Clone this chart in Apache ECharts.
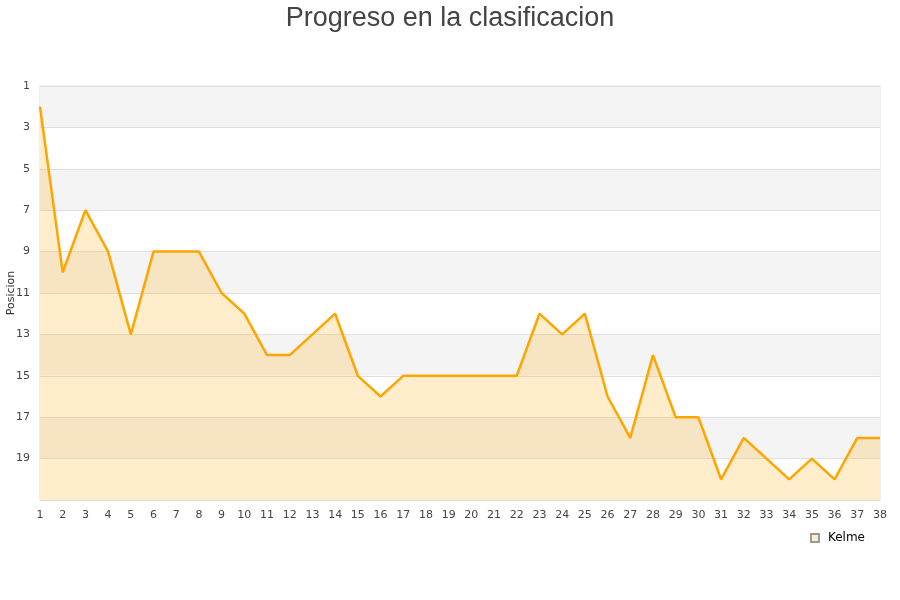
<!DOCTYPE html>
<html><head><meta charset="utf-8">
<script src="https://cdn.jsdelivr.net/npm/echarts@6/dist/echarts.min.js"></script>
<style>html,body{margin:0;padding:0;background:#fff}#c{width:900px;height:600px}</style>
</head><body><div id="c"></div>
<script>
const categories = Array.from({length: 38}, (_, i) => String(i + 1));
const kelme = [2,10,7,9,13,9,9,9,11,12,14,14,13,12,15,16,15,15,15,15,15,15,12,13,12,16,18,14,17,17,20,18,19,20,19,20,18,18];
const seriesName = 'Kelme';
const chart = echarts.init(document.getElementById('c'));
chart.setOption({
  animation: false,
  title: {text: 'Progreso en la clasificacion', left: 'center', top: 0,
    textStyle: {fontFamily: 'Liberation Sans', fontSize: 27, fontWeight: 'normal', color: '#444'}},
  legend: {data: [seriesName], right: 30, top: 527, itemWidth: 8, itemHeight: 8, icon: 'rect',
    textStyle: {fontFamily: 'DejaVu Sans', fontSize: 12, color: '#000', padding: [0, 0, 0, 4]}},
  grid: {left: 40, right: 20, top: 86, bottom: 100, show: true, borderColor: '#ddd', borderWidth: 1,
    containLabel: false, outerBoundsMode: 'none'},
  xAxis: {type: 'category', data: categories, boundaryGap: false,
    axisLine: {lineStyle: {color: '#ddd'}}, axisTick: {show: false},
    axisLabel: {color: '#444', fontFamily: 'DejaVu Sans', fontSize: 11, interval: 0, margin: 10}},
  yAxis: {type: 'value', inverse: true, min: 1, max: 21, interval: 2,
    name: 'Posicion', nameLocation: 'middle', nameGap: 23, nameRotate: 90, nameMoveOverlap: false,
    nameTextStyle: {fontFamily: 'DejaVu Sans', fontSize: 11, color: '#333'},
    axisLine: {show: false}, axisTick: {show: false},
    axisLabel: {color: '#444', fontFamily: 'DejaVu Sans', fontSize: 11, margin: 10,
      formatter: v => v === 21 ? '' : v},
    splitLine: {lineStyle: {color: '#e0e0e0'}},
    splitArea: {show: true, areaStyle: {color: ['#f4f4f4', '#ffffff']}}},
  series: [{name: seriesName, type: 'line', data: kelme, symbol: 'none',
    itemStyle: {color: '#ffedcc', borderColor: '#999', borderWidth: 1},
    lineStyle: {color: '#ffa500', width: 2.5},
    areaStyle: {color: 'rgba(255,165,0,0.2)', opacity: 1, origin: 'end'}}]
});
</script></body></html>
